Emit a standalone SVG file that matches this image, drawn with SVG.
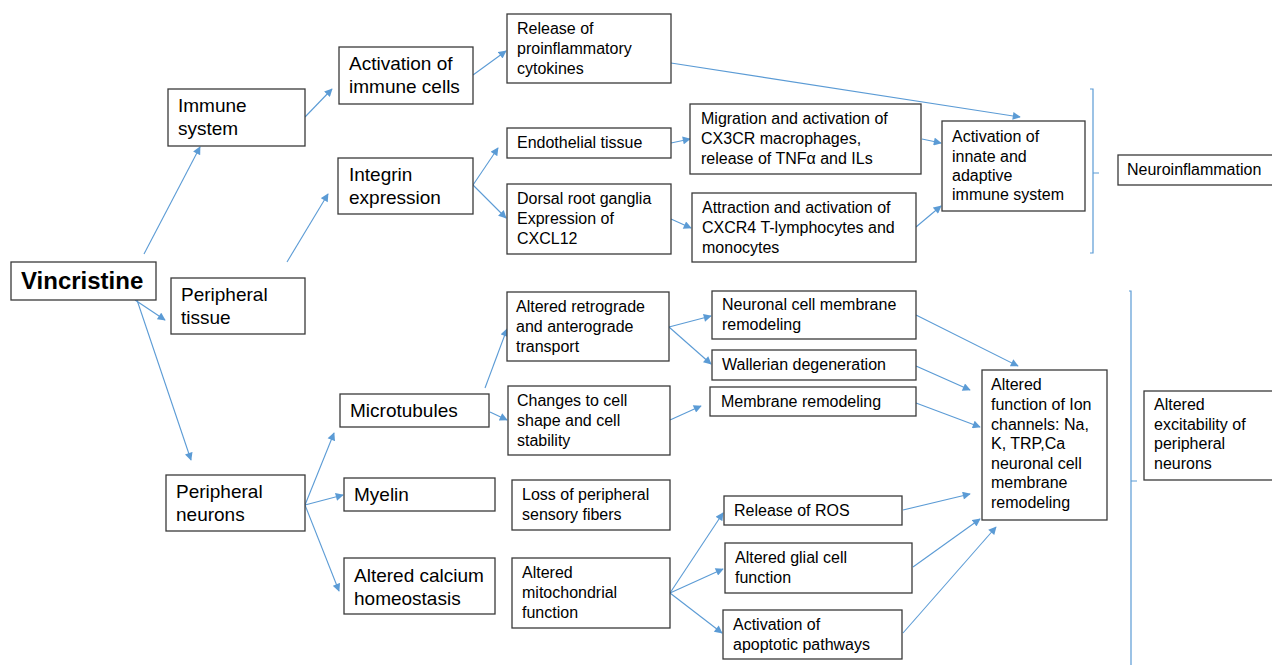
<svg xmlns="http://www.w3.org/2000/svg" width="1272" height="665" viewBox="0 0 1272 665">
<style>
.box{fill:#fff;stroke:#3a3a3a;stroke-width:1.3}
.t{font-family:"Liberation Sans",Arial,sans-serif;font-size:16px;fill:#000}
.L{font-size:19px}
.B{font-size:24px;font-weight:bold}
.c{fill:none;stroke:#5b9bd5;stroke-width:1.1;marker-end:url(#ah)}
.br{fill:none;stroke:#5b9bd5;stroke-width:1.2}
</style>
<defs>
<marker id="ah" viewBox="0 0 10 10" refX="9" refY="5" markerWidth="9" markerHeight="8" markerUnits="userSpaceOnUse" orient="auto">
<path d="M0,0 L10,5 L0,10 z" fill="#5b9bd5"/>
</marker>
</defs>
<rect width="1272" height="665" fill="#fff"/>

<g id="connectors">
<line class="c" x1="144" y1="254" x2="200" y2="147"/>
<line class="c" x1="135" y1="300" x2="165" y2="320"/>
<line class="c" x1="137" y1="300" x2="191" y2="460"/>
<line class="c" x1="305" y1="117" x2="332" y2="89"/>
<line class="c" x1="287" y1="262" x2="328" y2="194"/>
<line class="c" x1="473" y1="75" x2="506" y2="51"/>
<line class="c" x1="671" y1="63" x2="1020" y2="117"/>
<line class="c" x1="473" y1="185" x2="498" y2="148"/>
<line class="c" x1="473" y1="185" x2="506" y2="218"/>
<line class="c" x1="671" y1="143" x2="690" y2="139"/>
<line class="c" x1="671" y1="219" x2="691" y2="228"/>
<line class="c" x1="922" y1="139" x2="941" y2="143"/>
<line class="c" x1="916" y1="227" x2="941" y2="206"/>
<line class="c" x1="305" y1="505" x2="334" y2="433"/>
<line class="c" x1="305" y1="505" x2="343" y2="495"/>
<line class="c" x1="305" y1="505" x2="339" y2="591"/>
<line class="c" x1="485" y1="388" x2="507" y2="329"/>
<line class="c" x1="490" y1="412" x2="507" y2="420"/>
<line class="c" x1="669" y1="327" x2="711" y2="316"/>
<line class="c" x1="669" y1="327" x2="711" y2="364"/>
<line class="c" x1="670" y1="420" x2="701" y2="406"/>
<line class="c" x1="670" y1="593" x2="723" y2="513"/>
<line class="c" x1="670" y1="593" x2="723" y2="569"/>
<line class="c" x1="670" y1="593" x2="722" y2="633"/>
<line class="c" x1="916" y1="315" x2="1018" y2="366"/>
<line class="c" x1="916" y1="366" x2="970" y2="390"/>
<line class="c" x1="916" y1="403" x2="980" y2="427"/>
<line class="c" x1="903" y1="510" x2="970" y2="494"/>
<line class="c" x1="913" y1="567" x2="980" y2="519"/>
<line class="c" x1="903" y1="633" x2="996" y2="527"/>
<path class="br" d="M1090,89 H1093 V253 H1090 M1093,173 H1099"/>
<path class="br" d="M1129,291 H1131 V665 M1131,481 H1137"/>
</g>

<g id="vincristine"><rect class="box" x="11" y="262" width="145" height="38"/><text class="t B" x="21" y="289">Vincristine</text></g>
<g id="immune-system"><rect class="box" x="168" y="89" width="137" height="57"/><text class="t L" x="178" y="112">Immune</text><text class="t L" x="178" y="135">system</text></g>
<g id="peripheral-tissue"><rect class="box" x="171" y="278" width="134" height="56"/><text class="t L" x="181" y="301">Peripheral</text><text class="t L" x="181" y="324">tissue</text></g>
<g id="peripheral-neurons"><rect class="box" x="166" y="475" width="139" height="56"/><text class="t L" x="176" y="498">Peripheral</text><text class="t L" x="176" y="521">neurons</text></g>
<g id="activation-immune-cells"><rect class="box" x="339" y="47" width="134" height="57"/><text class="t L" x="349" y="70">Activation of</text><text class="t L" x="349" y="93">immune cells</text></g>
<g id="integrin"><rect class="box" x="338" y="158" width="135" height="56"/><text class="t L" x="349" y="181">Integrin</text><text class="t L" x="349" y="204">expression</text></g>
<g id="microtubules"><rect class="box" x="340" y="394" width="149" height="33"/><text class="t L" x="350" y="417">Microtubules</text></g>
<g id="myelin"><rect class="box" x="344" y="478" width="151" height="33"/><text class="t L" x="354" y="501">Myelin</text></g>
<g id="calcium"><rect class="box" x="344" y="558" width="151" height="56"/><text class="t L" x="354" y="582">Altered calcium</text><text class="t L" x="354" y="605">homeostasis</text></g>

<g id="cytokines"><rect class="box" x="507" y="14" width="164" height="69"/><text class="t" x="517" y="34">Release of</text><text class="t" x="517" y="54">proinflammatory</text><text class="t" x="517" y="74">cytokines</text></g>
<g id="endothelial"><rect class="box" x="507" y="128" width="164" height="30"/><text class="t" x="517" y="148">Endothelial tissue</text></g>
<g id="drg"><rect class="box" x="507" y="184" width="164" height="70"/><text class="t" x="517" y="204">Dorsal root ganglia</text><text class="t" x="517" y="224">Expression of</text><text class="t" x="517" y="244">CXCL12</text></g>
<g id="migration"><rect class="box" x="690" y="104" width="231" height="70"/><text class="t" x="701" y="124">Migration and activation of</text><text class="t" x="701" y="144">CX3CR macrophages,</text><text class="t" x="701" y="164">release of TNFα and ILs</text></g>
<g id="attraction"><rect class="box" x="692" y="193" width="224" height="69"/><text class="t" x="702" y="213">Attraction and activation of</text><text class="t" x="702" y="233">CXCR4 T-lymphocytes and</text><text class="t" x="702" y="253">monocytes</text></g>
<g id="innate-adaptive"><rect class="box" x="942" y="121" width="143" height="90"/><text class="t" x="952" y="142">Activation of</text><text class="t" x="952" y="162">innate and</text><text class="t" x="952" y="181">adaptive</text><text class="t" x="952" y="200">immune system</text></g>
<g id="neuroinflammation"><rect class="box" x="1118" y="155" width="160" height="30"/><text class="t" x="1127" y="175">Neuroinflammation</text></g>

<g id="retrograde"><rect class="box" x="507" y="292" width="162" height="69"/><text class="t" x="516" y="312">Altered retrograde</text><text class="t" x="516" y="332">and anterograde</text><text class="t" x="516" y="352">transport</text></g>
<g id="cell-shape"><rect class="box" x="508" y="386" width="162" height="69"/><text class="t" x="517" y="406">Changes to cell</text><text class="t" x="517" y="426">shape and cell</text><text class="t" x="517" y="446">stability</text></g>
<g id="loss-fibers"><rect class="box" x="512" y="480" width="158" height="50"/><text class="t" x="522" y="500">Loss of peripheral</text><text class="t" x="522" y="520">sensory fibers</text></g>
<g id="mitochondrial"><rect class="box" x="512" y="558" width="158" height="70"/><text class="t" x="522" y="578">Altered</text><text class="t" x="522" y="598">mitochondrial</text><text class="t" x="522" y="618">function</text></g>
<g id="neuronal-membrane"><rect class="box" x="712" y="291" width="204" height="48"/><text class="t" x="722" y="310">Neuronal cell membrane</text><text class="t" x="722" y="330">remodeling</text></g>
<g id="wallerian"><rect class="box" x="712" y="350" width="204" height="30"/><text class="t" x="722" y="370">Wallerian degeneration</text></g>
<g id="membrane-remodeling"><rect class="box" x="710" y="387" width="206" height="29"/><text class="t" x="721" y="407">Membrane remodeling</text></g>
<g id="ros"><rect class="box" x="724" y="496" width="178" height="29"/><text class="t" x="734" y="516">Release of ROS</text></g>
<g id="glial"><rect class="box" x="725" y="543" width="187" height="50"/><text class="t" x="735" y="563">Altered glial cell</text><text class="t" x="735" y="583">function</text></g>
<g id="apoptotic"><rect class="box" x="723" y="610" width="179" height="49"/><text class="t" x="733" y="630">Activation of</text><text class="t" x="733" y="650">apoptotic pathways</text></g>
<g id="ion-channels"><rect class="box" x="982" y="370" width="125" height="150"/><text class="t" x="991" y="390">Altered</text><text class="t" x="991" y="410">function of Ion</text><text class="t" x="991" y="430">channels: Na,</text><text class="t" x="991" y="449">K, TRP,Ca</text><text class="t" x="991" y="469">neuronal cell</text><text class="t" x="991" y="488">membrane</text><text class="t" x="991" y="508">remodeling</text></g>
<g id="excitability"><rect class="box" x="1144" y="391" width="134" height="89"/><text class="t" x="1154" y="410">Altered</text><text class="t" x="1154" y="430">excitability of</text><text class="t" x="1154" y="449">peripheral</text><text class="t" x="1154" y="469">neurons</text></g>
</svg>
